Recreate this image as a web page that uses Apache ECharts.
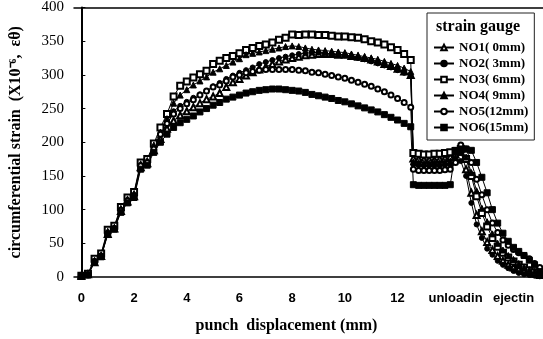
<!DOCTYPE html>
<html>
<head>
<meta charset="utf-8">
<script src="https://cdn.jsdelivr.net/npm/echarts@6/dist/echarts.min.js"></script>
<style>
  html, body { margin: 0; padding: 0; background: #fff; }
  #chart { width: 543px; height: 339px; }
</style>
</head>
<body>
<div id="chart"></div>
<script>
// punch displacement (mm): loading, unloading, ejection
const xValues = [
  0, 0.25, 0.5, 0.75, 1, 1.25, 1.5, 1.75, 2, 2.25, 2.5, 2.75,
  3, 3.25, 3.5, 3.75, 4, 4.25, 4.5, 4.75, 5, 5.25,
  5.5, 5.75, 6, 6.25, 6.5, 6.75, 7, 7.25, 7.5, 7.75,
  8, 8.25, 8.5, 8.75, 9, 9.25, 9.5, 9.75, 10, 10.25,
  10.5, 10.75, 11, 11.25, 11.5, 11.75, 12, 12.25, 12.5,
  12.6, 12.8, 13, 13.2, 13.4, 13.6, 13.8, 14, 14.2, 14.4,
  14.6, 14.8, 15, 15.2, 15.4, 15.6, 15.8, 16, 16.2, 16.4, 16.6, 16.8, 17, 17.2, 17.4
];

const no1 = [
  2, 4, 22, 31, 64, 72, 98, 112, 120, 163, 169, 188,
  205, 220, 232, 240, 246, 252, 258, 264, 268, 273,
  282, 289, 294, 299, 304, 308, 312, 316, 320, 323,
  325, 327, 329, 330, 331, 331, 331, 330, 330, 328,
  327, 325, 323, 320, 316, 313, 309, 305, 300,
  176, 175, 174, 174, 174, 175, 176, 178, 182, 186,
  160, 125, 92, 68, 52, 40, 31, 24, 18, 14, 11, 9, 7, 5, 3
];
const no2 = [
  1, 3, 24, 32, 66, 73, 100, 114, 122, 166, 171, 192,
  210, 226, 246, 254, 260, 266, 271, 276, 283, 288,
  294, 299, 303, 307, 311, 316, 319, 322, 325, 327,
  329, 331, 332, 333, 333, 332, 331, 330, 329, 327,
  325, 323, 320, 317, 314, 311, 307, 303, 298,
  167, 166, 165, 165, 165, 165, 166, 167, 170, 172,
  150, 110, 78, 58, 42, 33, 24, 18, 13, 9, 6, 4, 3, 2, 1
];
const no3 = [
  2, 5, 27, 35, 70, 76, 104, 118, 126, 170, 175, 198,
  222, 242, 268, 284, 290, 296, 301, 306, 316, 321,
  325, 328, 332, 337, 340, 343, 345, 348, 352, 355,
  360, 359, 360, 360, 359, 359, 358, 357, 357, 356,
  355, 353, 350, 348, 345, 341, 337, 331, 322,
  184, 183, 182, 182, 183, 183, 184, 185, 187, 190,
  175, 150, 120, 95, 75, 58, 45, 36, 29, 23, 18, 14, 10, 7, 4
];
const no4 = [
  1, 4, 25, 33, 68, 74, 102, 116, 124, 168, 173, 196,
  215, 235, 258, 270, 278, 285, 291, 297, 304, 309,
  314, 319, 324, 330, 332, 334, 336, 338, 340, 342,
  343, 342, 340, 338, 337, 336, 335, 334, 333, 331,
  329, 327, 325, 323, 320, 317, 314, 310, 305,
  171, 170, 169, 169, 170, 170, 171, 172, 178, 185,
  178, 155, 128, 102, 82, 64, 50, 40, 32, 26, 20, 15, 11, 8, 5
];
const no5 = [
  1, 3, 23, 31, 65, 72, 99, 113, 121, 165, 170, 190,
  212, 228, 242, 250, 257, 263, 270, 276, 282, 285,
  291, 297, 300, 303, 305, 307, 308, 308, 308, 308,
  308, 307, 306, 304, 303, 301, 299, 297, 295, 292,
  289, 286, 283, 279, 275, 270, 265, 259, 252,
  160, 158, 158, 158, 158, 158, 159, 160, 170, 196,
  190, 170, 145, 122, 100, 80, 66, 55, 47, 41, 36, 32, 27, 20, 14
];
const no6 = [
  1, 3, 22, 30, 63, 71, 96, 110, 118, 160, 166, 185,
  200, 212, 222, 229, 234, 239, 245, 250, 255, 259,
  264, 267, 270, 273, 275, 277, 278, 279, 279, 278,
  277, 276, 274, 271, 269, 267, 265, 262, 260, 257,
  254, 251, 248, 245, 241, 237, 233, 228, 223,
  137, 136, 136, 136, 136, 136, 136, 137, 188, 190,
  190, 188, 170, 148, 125, 100, 80, 65, 53, 44, 38, 32, 25, 18, 8
];

const seriesNames = ["NO1( 0mm)", "NO2( 3mm)", "NO3( 6mm)", "NO4( 9mm)", "NO5(12mm)", "NO6(15mm)"];
const seriesSymbols = ["emptyTriangle", "circle", "emptyRect", "triangle", "emptyCircle", "rect"];
const seriesValues = [no1, no2, no3, no4, no5, no6];

const xTickValues = [0, 2, 4, 6, 8, 10, 12, 14.2, 16.4];
const xTickLabels = ["0", "2", "4", "6", "8", "10", "12", "unloadin", "ejectin"];

const serif = "'Liberation Serif', 'Times New Roman', serif";

const chart = echarts.init(document.getElementById("chart"));

const series = seriesValues.map((vals, i) => ({
  name: seriesNames[i],
  type: "line",
  data: vals.map((v, j) => [xValues[j], v]),
  symbol: seriesSymbols[i],
  symbolSize: /ircle/.test(seriesSymbols[i]) ? 5 : 6,
  color: "#000",
  itemStyle: { color: "#000", borderColor: "#000", borderWidth: 1 },
  lineStyle: { color: "#000", width: 1 },
  animation: false
}));

chart.setOption({
  backgroundColor: "#fff",
  grid: { left: 66, top: 7, right: 0, bottom: 61 },
  legend: {
    data: seriesNames,
    orient: "vertical",
    left: 427,
    top: 13,
    padding: [28, 6, 6, 6],
    itemWidth: 20,
    itemHeight: 7,
    itemGap: 3,
    borderColor: "#222",
    borderWidth: 1,
    textStyle: { fontFamily: serif, fontWeight: "bold", fontSize: 13, color: "#000" }
  },
  graphic: [{
    type: "text",
    left: 436,
    top: 19,
    style: { text: "strain gauge", font: "bold 16px " + serif, fill: "#000" }
  }],
  xAxis: [{
    type: "value",
    min: -0.28,
    max: 17.52,
    name: "punch  displacement (mm)",
    nameLocation: "middle",
    nameGap: 41,
    nameTextStyle: { fontFamily: serif, fontWeight: "bold", fontSize: 16, color: "#000", padding: [0, 44, 0, 0] },
    axisLine: { lineStyle: { color: "#000", width: 1.5 } },
    axisTick: { show: false },
    splitLine: { show: false },
    axisLabel: {
      customValues: xTickValues,
      formatter: v => xTickLabels[xTickValues.indexOf(v)],
      margin: 15,
      fontFamily: "'Liberation Sans', Arial, sans-serif",
      fontWeight: "bold",
      fontSize: 13,
      color: "#000"
    }
  }, {
    type: "value",
    position: "top",
    min: -0.28,
    max: 17.52,
    axisLine: { show: true, onZero: false, lineStyle: { color: "#000", width: 1.5 } },
    axisTick: { show: false },
    axisLabel: { show: false },
    splitLine: { show: false }
  }],
  yAxis: {
    type: "value",
    min: 0,
    max: 400,
    interval: 50,
    name: "circumferential strain  (X10⁻⁶,  εθ)",
    nameLocation: "middle",
    nameGap: 50,
    nameTextStyle: { fontFamily: serif, fontWeight: "bold", fontSize: 16, color: "#000" },
    axisLine: { show: true, lineStyle: { color: "#000", width: 2 } },
    axisTick: { show: true, inside: true, length: 4, lineStyle: { color: "#000" } },
    splitLine: { show: false },
    axisLabel: { fontFamily: serif, fontSize: 15, color: "#000", margin: 10 }
  },
  series: series
});
</script>
</body>
</html>
